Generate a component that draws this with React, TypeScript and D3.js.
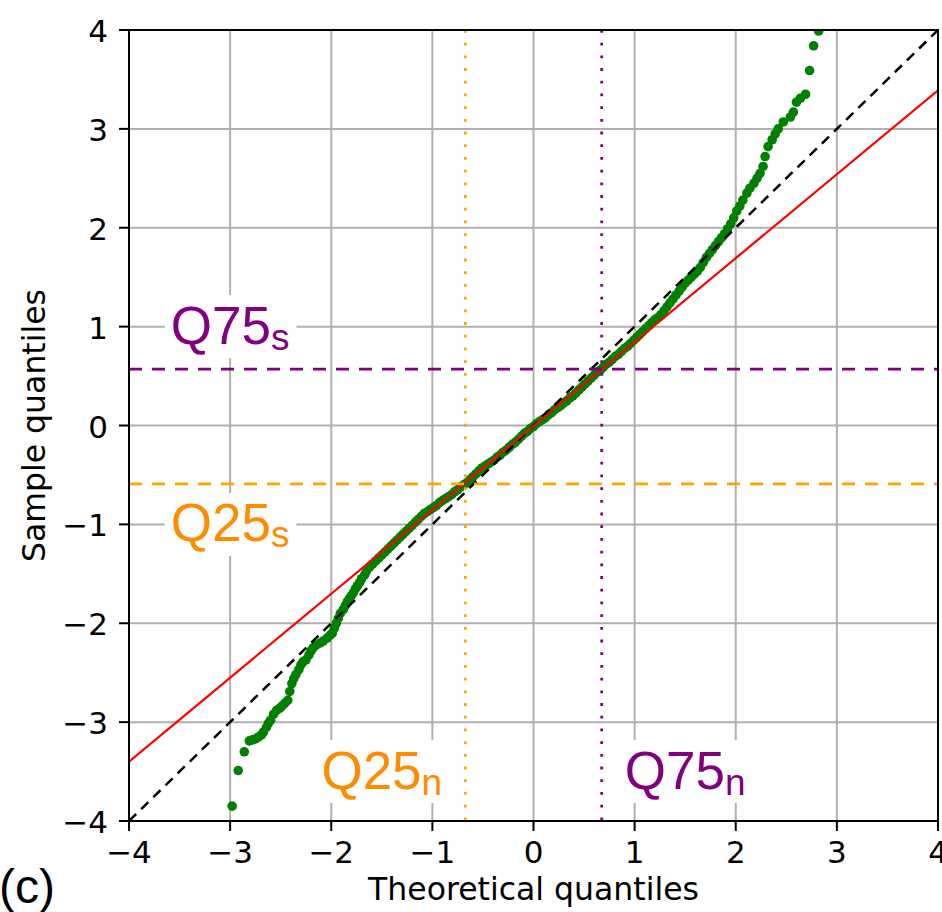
import React, { useEffect, useRef } from "react";
import * as d3 from "d3";

const xTicks = [-4, -3, -2, -1, 0, 1, 2, 3, 4];
const yTicks = [-4, -3, -2, -1, 0, 1, 2, 3, 4];

// Theoretical quantiles (x) and sample quantiles (y)
const theoretical = [
  -2.98, -2.92, -2.86, -2.81, -2.78, -2.75, -2.72, -2.69, -2.67, -2.64, -2.62, -2.6, -2.57, -2.54, -2.51, -2.49,
  -2.46, -2.43, -2.41, -2.39, -2.37, -2.35, -2.32, -2.3, -2.28, -2.25, -2.22, -2.2, -2.18, -2.15, -2.11, -2.08,
  -2.04, -2.01, -1.99, -1.97, -1.95, -1.93, -1.91, -1.88, -1.86, -1.84, -1.82, -1.8, -1.78, -1.76, -1.74, -1.72,
  -1.7, -1.67, -1.65, -1.62, -1.59, -1.56, -1.53, -1.5, -1.47, -1.44, -1.41, -1.38, -1.35, -1.32, -1.29, -1.26,
  -1.23, -1.2, -1.17, -1.14, -1.11, -1.08, -1.05, -1.02, -0.99, -0.96, -0.93, -0.9, -0.87, -0.84, -0.81, -0.78,
  -0.75, -0.72, -0.69, -0.66, -0.63, -0.6, -0.57, -0.54, -0.51, -0.48, -0.45, -0.42, -0.39, -0.36, -0.33, -0.3,
  -0.27, -0.24, -0.21, -0.18, -0.15, -0.12, -0.09, -0.06, -0.03, 0.0, 0.03, 0.06, 0.09, 0.12, 0.15, 0.18,
  0.21, 0.24, 0.27, 0.3, 0.33, 0.36, 0.39, 0.42, 0.45, 0.48, 0.51, 0.54, 0.57, 0.6, 0.63, 0.66,
  0.69, 0.72, 0.75, 0.78, 0.81, 0.84, 0.87, 0.9, 0.93, 0.96, 0.99, 1.02, 1.05, 1.08, 1.11, 1.14,
  1.17, 1.2, 1.23, 1.26, 1.29, 1.32, 1.35, 1.38, 1.41, 1.44, 1.47, 1.5, 1.53, 1.56, 1.59, 1.62,
  1.65, 1.68, 1.71, 1.74, 1.77, 1.8, 1.83, 1.86, 1.89, 1.92, 1.95, 1.98, 2.01, 2.04, 2.07, 2.11,
  2.14, 2.18, 2.21, 2.24, 2.27, 2.29, 2.32, 2.36, 2.39, 2.42, 2.47, 2.54, 2.57, 2.6, 2.64, 2.69,
  2.73, 2.77, 2.82,
];
const sample = [
  -3.85, -3.49, -3.3, -3.19, -3.18, -3.17, -3.15, -3.13, -3.1, -3.05, -3.01, -2.98, -2.92, -2.88, -2.86, -2.84,
  -2.81, -2.78, -2.69, -2.61, -2.56, -2.52, -2.47, -2.42, -2.39, -2.37, -2.32, -2.28, -2.25, -2.22, -2.2, -2.18,
  -2.15, -2.12, -2.1, -2.05, -2.0, -1.95, -1.9, -1.86, -1.82, -1.78, -1.75, -1.72, -1.69, -1.65, -1.62, -1.59,
  -1.55, -1.51, -1.47, -1.43, -1.4, -1.37, -1.34, -1.31, -1.28, -1.25, -1.22, -1.19, -1.16, -1.13, -1.1, -1.07,
  -1.04, -1.01, -0.98, -0.95, -0.92, -0.89, -0.87, -0.85, -0.83, -0.81, -0.78, -0.76, -0.74, -0.72, -0.7, -0.67,
  -0.65, -0.62, -0.6, -0.58, -0.55, -0.52, -0.49, -0.46, -0.43, -0.41, -0.39, -0.37, -0.35, -0.32, -0.3, -0.27,
  -0.25, -0.22, -0.19, -0.17, -0.14, -0.11, -0.08, -0.06, -0.03, -0.01, 0.02, 0.04, 0.06, 0.08, 0.11, 0.13,
  0.16, 0.18, 0.2, 0.23, 0.25, 0.28, 0.3, 0.33, 0.36, 0.39, 0.42, 0.45, 0.48, 0.51, 0.54, 0.56,
  0.59, 0.62, 0.64, 0.67, 0.7, 0.72, 0.75, 0.78, 0.8, 0.83, 0.86, 0.89, 0.92, 0.95, 0.98, 1.01,
  1.04, 1.07, 1.09, 1.12, 1.16, 1.2, 1.24, 1.28, 1.32, 1.36, 1.4, 1.44, 1.47, 1.5, 1.53, 1.56,
  1.6, 1.65, 1.7, 1.74, 1.78, 1.82, 1.86, 1.9, 1.94, 1.99, 2.04, 2.1, 2.17, 2.22, 2.28, 2.35,
  2.4, 2.45, 2.5, 2.55, 2.62, 2.72, 2.82, 2.89, 2.95, 3.0, 3.07, 3.12, 3.17, 3.27, 3.31, 3.35,
  3.59, 3.84, 3.99,
];

// Fitted (red) line endpoints and reference (black) line
const fitLineX = [-4, 4];
const fitLineY = [-3.4, 3.39];
const refLineX = [-4, 4];
const refLineY = [-4, 4];

// Quartiles
const q25n = -0.6745;
const q75n = 0.6745;
const q25s = -0.59;
const q75s = 0.571;

const labels = [
  { main: "Q75", sub: "s", x: -3, y: 1, color: "#800080" },
  { main: "Q25", sub: "s", x: -3, y: -1, color: "#ff8c00" },
  { main: "Q25", sub: "n", x: -1.5, y: -3.5, color: "#ff8c00" },
  { main: "Q75", sub: "n", x: 1.5, y: -3.5, color: "#800080" },
];

const W = 942;
const H = 912;
const M = { left: 129, right: 938, top: 30, bottom: 821 };

export default function App() {
  const ref = useRef<SVGSVGElement | null>(null);

  useEffect(() => {
    const svg = d3.select(ref.current);
    svg.selectAll("*").remove();

    const x = d3.scaleLinear().domain([-4, 4]).range([M.left, M.right]);
    const y = d3.scaleLinear().domain([-4, 4]).range([M.bottom, M.top]);

    const plot = svg.append("g");
    const clipId = "plotclip";
    svg
      .append("defs")
      .append("clipPath")
      .attr("id", clipId)
      .append("rect")
      .attr("x", M.left)
      .attr("y", M.top)
      .attr("width", M.right - M.left)
      .attr("height", M.bottom - M.top);

    // grid
    const grid = plot.append("g").attr("stroke", "#b0b0b0").attr("stroke-width", 2);
    xTicks.forEach((t) => {
      grid.append("line").attr("x1", x(t)).attr("x2", x(t)).attr("y1", M.top).attr("y2", M.bottom);
    });
    yTicks.forEach((t) => {
      grid.append("line").attr("x1", M.left).attr("x2", M.right).attr("y1", y(t)).attr("y2", y(t));
    });

    const content = plot.append("g").attr("clip-path", `url(#${clipId})`);

    // points
    content
      .append("g")
      .selectAll("circle")
      .data(theoretical.map((t, i) => [t, sample[i]]))
      .join("circle")
      .attr("cx", (d) => x(d[0]))
      .attr("cy", (d) => y(d[1]))
      .attr("r", 4.8)
      .attr("fill", "#008000");

    const lineGen = d3
      .line<[number, number]>()
      .x((d) => x(d[0]))
      .y((d) => y(d[1]));

    // reference y=x line
    content
      .append("path")
      .attr("d", lineGen(refLineX.map((v, i) => [v, refLineY[i]] as [number, number])) as string)
      .attr("stroke", "#000")
      .attr("stroke-width", 2.5)
      .attr("stroke-dasharray", "10,7")
      .attr("fill", "none");

    // fitted line
    content
      .append("path")
      .attr("d", lineGen(fitLineX.map((v, i) => [v, fitLineY[i]] as [number, number])) as string)
      .attr("stroke", "#ff0000")
      .attr("stroke-width", 2.2)
      .attr("fill", "none");

    // horizontal quartile lines
    content
      .append("line")
      .attr("x1", M.left)
      .attr("x2", M.right)
      .attr("y1", y(q75s))
      .attr("y2", y(q75s))
      .attr("stroke", "#800080")
      .attr("stroke-width", 2.8)
      .attr("stroke-dasharray", "13,10");
    content
      .append("line")
      .attr("x1", M.left)
      .attr("x2", M.right)
      .attr("y1", y(q25s))
      .attr("y2", y(q25s))
      .attr("stroke", "#ffa500")
      .attr("stroke-width", 2.8)
      .attr("stroke-dasharray", "13,10");

    // vertical dotted lines
    content
      .append("line")
      .attr("x1", x(q25n))
      .attr("x2", x(q25n))
      .attr("y1", M.top)
      .attr("y2", M.bottom)
      .attr("stroke", "#ffa500")
      .attr("stroke-width", 2.8)
      .attr("stroke-dasharray", "2.8,9.9");
    content
      .append("line")
      .attr("x1", x(q75n))
      .attr("x2", x(q75n))
      .attr("y1", M.top)
      .attr("y2", M.bottom)
      .attr("stroke", "#800080")
      .attr("stroke-width", 2.8)
      .attr("stroke-dasharray", "2.8,9.9");

    // labels with white boxes
    labels.forEach((l) => {
      const g = svg.append("g");
      const rect = g.append("rect").attr("fill", "#fff");
      const txt = g
        .append("text")
        .attr("font-family", "'Liberation Sans', Arial, sans-serif")
        .attr("font-size", 53)
        .attr("fill", l.color);
      txt.append("tspan").text(l.main);
      txt.append("tspan").attr("font-size", 37).attr("dy", 6).text(l.sub);
      const node = txt.node() as SVGTextElement;
      const w = node.getComputedTextLength ? node.getComputedTextLength() : 118;
      const cx = x(l.x);
      const cy = y(l.y);
      txt.attr("x", cx - w / 2).attr("y", cy + 17);
      rect
        .attr("x", cx - w / 2 - 6)
        .attr("y", cy - 31.5)
        .attr("width", w + 13)
        .attr("height", 63);
    });

    // spines
    svg
      .append("rect")
      .attr("x", M.left)
      .attr("y", M.top)
      .attr("width", M.right - M.left)
      .attr("height", M.bottom - M.top)
      .attr("fill", "none")
      .attr("stroke", "#000")
      .attr("stroke-width", 2);

    // ticks
    const axes = svg.append("g").attr("font-family", "'DejaVu Sans', sans-serif").attr("font-size", 31);
    const fmt = (t: number) => (t < 0 ? "\u2212" + Math.abs(t) : String(t));
    xTicks.forEach((t) => {
      axes
        .append("line")
        .attr("x1", x(t))
        .attr("x2", x(t))
        .attr("y1", M.bottom)
        .attr("y2", M.bottom + 10)
        .attr("stroke", "#000")
        .attr("stroke-width", 2);
      axes
        .append("text")
        .attr("x", x(t))
        .attr("y", 863)
        .attr("text-anchor", "middle")
        .text(fmt(t));
    });
    yTicks.forEach((t) => {
      axes
        .append("line")
        .attr("x1", M.left - 10)
        .attr("x2", M.left)
        .attr("y1", y(t))
        .attr("y2", y(t))
        .attr("stroke", "#000")
        .attr("stroke-width", 2);
      axes
        .append("text")
        .attr("x", 108)
        .attr("y", y(t) + 12)
        .attr("text-anchor", "end")
        .text(fmt(t));
    });

    axes
      .append("text")
      .attr("x", (M.left + M.right) / 2)
      .attr("y", 900)
      .attr("font-size", 31.5)
      .attr("text-anchor", "middle")
      .text("Theoretical quantiles");
    axes
      .append("text")
      .attr("transform", `translate(45,${(M.top + M.bottom) / 2}) rotate(-90)`)
      .attr("font-size", 31.5)
      .attr("text-anchor", "middle")
      .text("Sample quantiles");

    svg
      .append("text")
      .attr("x", -1)
      .attr("y", 903)
      .attr("font-family", "'Liberation Sans', Arial, sans-serif")
      .attr("font-size", 48)
      .attr("fill", "#000")
      .text("(c)");
  }, []);

  return (
    <div style={{ position: "absolute", left: 0, top: 0, width: W, height: H }}>
      <svg ref={ref} width={W} height={H} style={{ display: "block" }} />
    </div>
  );
}
